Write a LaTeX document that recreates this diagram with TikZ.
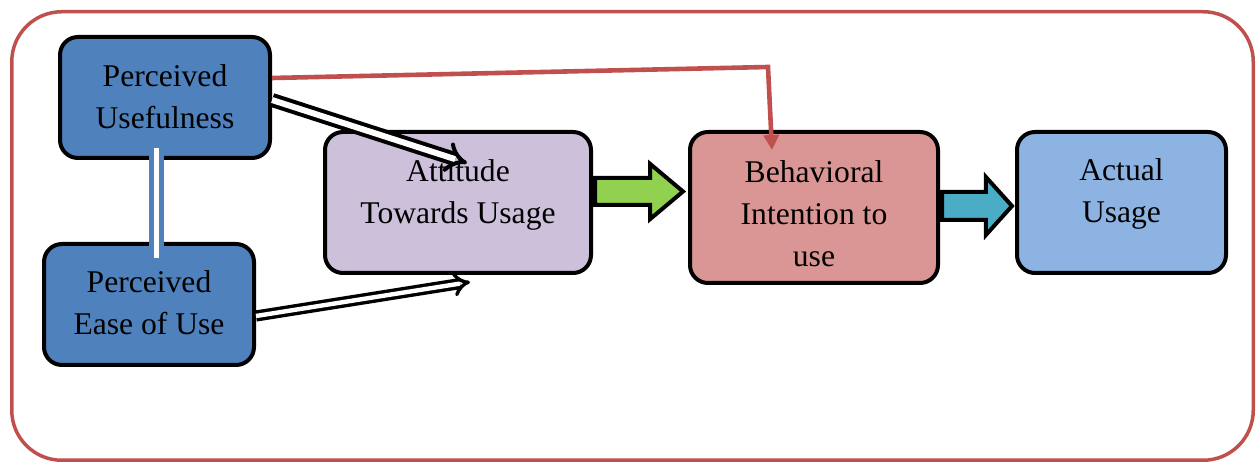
\documentclass[tikz,border=0pt]{standalone}
\usepackage{fontspec}
\setmainfont{Liberation Serif}
\usetikzlibrary{arrows.meta, positioning, calc, shapes.arrows}
\definecolor{tamblue}{RGB}{79,129,189}
\definecolor{tamlilac}{RGB}{204,192,218}
\definecolor{tamrose}{RGB}{217,150,148}
\definecolor{tamsky}{RGB}{141,179,226}
\definecolor{tamgreen}{RGB}{146,208,80}
\definecolor{tamteal}{RGB}{75,172,198}
\definecolor{tamred}{RGB}{192,80,77}
\tikzset{
  tambox/.style={rectangle, draw=black, line width=2pt,
    rounded corners=9pt, inner sep=0pt},
  boxtext/.style={font=\fontsize{15.8}{21}\selectfont, align=center, text=black},
  hollowarrow/.style={draw=black, double=white, -{Implies}},
  blockarrow/.style={single arrow, draw=black, line width=2pt,
    inner xsep=0pt, anchor=west}
}

\begin{document}
\begin{tikzpicture}[x=0.5pt, y=-0.5pt]
  \useasboundingbox (0,0) rectangle (1260,464);
  % Outer frame
  \draw[tamred, line width=1.75pt, rounded corners=25pt] (11.75,11.75) rectangle (1253.25,460.25);

  % Model boxes
  \node[tambox, fill=tamblue, minimum width=105pt, minimum height=60.5pt,
    label={[boxtext, yshift=0.5pt]center:{Perceived\\Usefulness}}] (pu) at (165,97.5) {};
  \node[tambox, fill=tamblue, minimum width=105pt, minimum height=60.5pt,
    label={[boxtext, yshift=0.75pt]center:{Perceived\\Ease of Use}}] (pe) at (149,304.5) {};
  \node[tambox, fill=tamlilac, minimum width=133pt, minimum height=70.5pt,
    label={[boxtext, yshift=4pt]center:{Attitude\\Towards Usage}}] (att) at (458,202.5) {};
  \node[tambox, fill=tamrose, minimum width=124pt, minimum height=75.5pt,
    label={[boxtext, yshift=-3pt]center:{Behavioral\\Intention to\\use}}] (bi) at (814,207.5) {};
  \node[tambox, fill=tamsky, minimum width=104.5pt, minimum height=70.5pt,
    label={[boxtext, yshift=4.5pt]center:{Actual\\Usage}}] (au) at (1121.5,202.5) {};

  % Link between the two perceptions
  \draw[tamblue, double=white, line width=2.5pt, double distance=2.5pt]
    ([xshift=-4.5pt, yshift=6pt]pu.south) -- ([xshift=3.5pt, yshift=-8pt]pe.north);

  % Hollow arrows into attitude
  \draw[hollowarrow, line width=2pt, double distance=3pt]
    ([yshift=-1.25pt]pu.east) -- ([xshift=4.5pt, yshift=-16.5pt]att.north);
  \draw[hollowarrow, line width=1.7pt, double distance=2.2pt]
    ([yshift=-5.75pt]pe.east) -- ([xshift=6pt, yshift=-3.5pt]att.south);

  % Direct path from usefulness to intention
  \coordinate (corner) at (768,67);
  \draw[tamred, line width=2.3pt, -{Triangle[length=7.5pt, width=7.5pt]}]
    ([yshift=9.75pt]pu.east) -- (corner) -- ([xshift=-21pt, yshift=-10pt]bi.north);

  % Block arrows
  \node[blockarrow, fill=tamgreen, inner ysep=5.75pt, minimum height=44pt,
    single arrow head extend=7pt, single arrow tip angle=80] (ga) at ([yshift=5.5pt]att.east) {};
  \node[blockarrow, fill=tamteal, inner ysep=6pt, minimum height=35pt,
    single arrow head extend=7.5pt, single arrow tip angle=96] (ta) at ([yshift=0.75pt]bi.east) {};
\end{tikzpicture}
\end{document}
